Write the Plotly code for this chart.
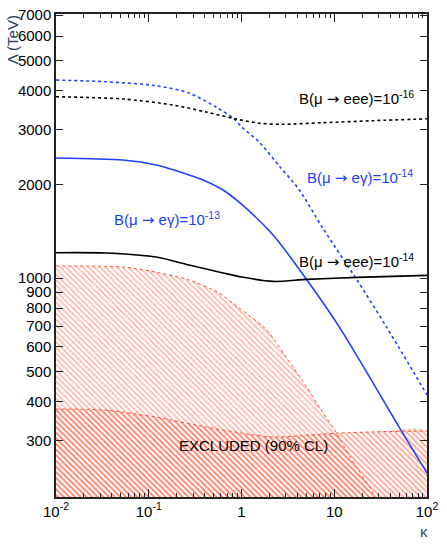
import numpy as np
import plotly.graph_objects as go

# kappa values and Lambda (TeV)
kappa_eg14 = [0.01, 0.0346, 0.120, 0.272, 0.531, 0.809, 1.01, 1.58, 2.60, 4.06, 7.62, 17.6, 37.1, 100]
lam_eg14 = [4330, 4276, 4152, 3934, 3546, 3270, 3058, 2718, 2275, 1947, 1438, 985, 691, 421]

kappa_eee16 = [0.01, 0.0527, 0.182, 0.414, 0.873, 1.58, 2.80, 7.57, 26.2, 100]
lam_eee16 = [3828, 3764, 3600, 3418, 3246, 3144, 3121, 3158, 3205, 3250]

kappa_eg13 = [0.01, 0.0527, 0.120, 0.272, 0.385, 0.632, 0.964, 2.19, 5.08, 11.5, 53.7, 100]
lam_eg13 = [2432, 2395, 2308, 2144, 2066, 1919, 1743, 1375, 985, 691, 320, 236]

kappa_eee14 = [0.01, 0.0346, 0.120, 0.272, 0.632, 1.01, 2.19, 5.08, 17.6, 100]
lam_eee14 = [1206, 1203, 1168, 1101, 1038, 1007, 975, 990, 1005, 1020]

# excluded regions (upper edges)
kappa_excl_a = [0.01, 0.0527, 0.132, 0.272, 0.545, 1.01, 1.88, 3.33, 4.27, 7.57, 10.7, 14.8, 26.2, 27.5]
lam_excl_a = [1093, 1085, 1038, 985, 902, 789, 680, 533, 481, 368, 316, 266, 204, 198]

kappa_excl_b = [0.01, 0.0346, 0.120, 0.414, 1.01, 2.19, 10.7, 26.2, 100]
lam_excl_b = [379, 376, 357, 332, 317, 308, 317, 320, 322]

lam_floor = 150  # below the visible range, used to close the hatched areas

x_tickvals = [0.01, 0.1, 1, 10, 100]
x_ticktext = ["10<sup>-2</sup>", "10<sup>-1</sup>", "1", "10", "10<sup>2</sup>"]
y_tickvals = [300, 400, 500, 600, 700, 800, 900, 1000, 2000, 3000, 4000, 5000, 6000, 7000]

BLUE = "#2040ff"
RED = "#ff4a2a"
FONT = "Liberation Sans, Arial, Helvetica, sans-serif"
ARROW = "<span style='font-family:DejaVu Sans'>\u2192</span>"

fig = go.Figure()

# Hatched excluded areas
for kap, lam, sol in [(kappa_excl_a, lam_excl_a, 0.3), (kappa_excl_b, lam_excl_b, 0.45)]:
    fig.add_trace(go.Scatter(
        x=kap + [kap[-1], kap[0]],
        y=lam + [lam_floor, lam_floor],
        mode="lines",
        fill="toself",
        fillcolor="rgba(255,255,255,0)",
        fillpattern=dict(shape="\\", fgcolor=RED, bgcolor="rgba(255,255,255,0)",
                         fillmode="overlay", size=4, solidity=sol),
        line=dict(width=0, shape="spline", smoothing=0.6),
        hoverinfo="skip",
        showlegend=False,
    ))
    # dotted edge of the area
    fig.add_trace(go.Scatter(
        x=kap, y=lam, mode="lines",
        line=dict(color=RED, width=1, dash="dot", shape="spline", smoothing=0.6),
        hoverinfo="skip", showlegend=False,
    ))

curves = [
    (kappa_eg14, lam_eg14, BLUE, "3px,3px"),
    (kappa_eee16, lam_eee16, "black", "3px,3px"),
    (kappa_eg13, lam_eg13, BLUE, "solid"),
    (kappa_eee14, lam_eee14, "black", "solid"),
]
for kap, lam, col, dash in curves:
    fig.add_trace(go.Scatter(
        x=kap, y=lam, mode="lines",
        line=dict(color=col, width=1.6, dash=dash, shape="spline", smoothing=0.8),
        hoverinfo="skip", showlegend=False,
    ))

labels = [
    ("B(\u03bc " + ARROW + " eee)=10<sup>-16</sup>", "black", 0.809, 0.826),
    ("B(\u03bc " + ARROW + " e\u03b3)=10<sup>-14</sup>", BLUE, 0.819, 0.662),
    ("B(\u03bc " + ARROW + " e\u03b3)=10<sup>-13</sup>", BLUE, 0.299, 0.575),
    ("B(\u03bc " + ARROW + " eee)=10<sup>-14</sup>", "black", 0.811, 0.489),
    ("EXCLUDED (90% CL)", "black", 0.531, 0.106),
]
for txt, col, x, y in labels:
    fig.add_annotation(text=txt, x=x, y=y, xref="paper", yref="paper",
                       xanchor="center", yanchor="middle",
                       showarrow=False, font=dict(color=col, size=15, family=FONT))

fig.add_annotation(text="\u039b (TeV)", x=-0.118, y=0.946, xref="paper", yref="paper",
                   xanchor="center", yanchor="middle",
                   textangle=-90, showarrow=False, font=dict(size=15, family=FONT))
fig.add_annotation(text="\u03ba", x=0.992, y=-0.072, xref="paper", yref="paper",
                   xanchor="center", yanchor="middle",
                   showarrow=False, font=dict(size=15, family=FONT))

fig.update_xaxes(
    type="log", range=[-2, 2],
    tickvals=x_tickvals, ticktext=x_ticktext,
    ticks="inside", ticklen=8, tickwidth=1.2, tickcolor="#222",
    minor=dict(ticks="inside", ticklen=4, tickwidth=1, tickcolor="#222", dtick="D1", showgrid=False),
    showline=True, linecolor="#222", linewidth=1.5, mirror="ticks",
    showgrid=False, zeroline=False, automargin=False,
    tickfont=dict(size=15, family=FONT, color="black"),
)
fig.update_yaxes(
    type="log", range=[2.2958, 3.8489],
    tickvals=y_tickvals,
    ticks="inside", ticklen=7, tickwidth=1.2, tickcolor="#222",
    showline=True, linecolor="#222", linewidth=1.5, mirror="ticks",
    showgrid=False, zeroline=False, automargin=False,
    tickfont=dict(size=15, family=FONT, color="black"),
)

fig.update_layout(
    width=447, height=552, autosize=False,
    margin=dict(l=56, r=20, t=14, b=55),
    plot_bgcolor="white", paper_bgcolor="white",
    font=dict(family=FONT),
)

# page body margin would shift the 447x552 figure inside the window
fig.write_html("out.html", config={"displayModeBar": False},
               post_script="document.body.style.margin='0px';")
